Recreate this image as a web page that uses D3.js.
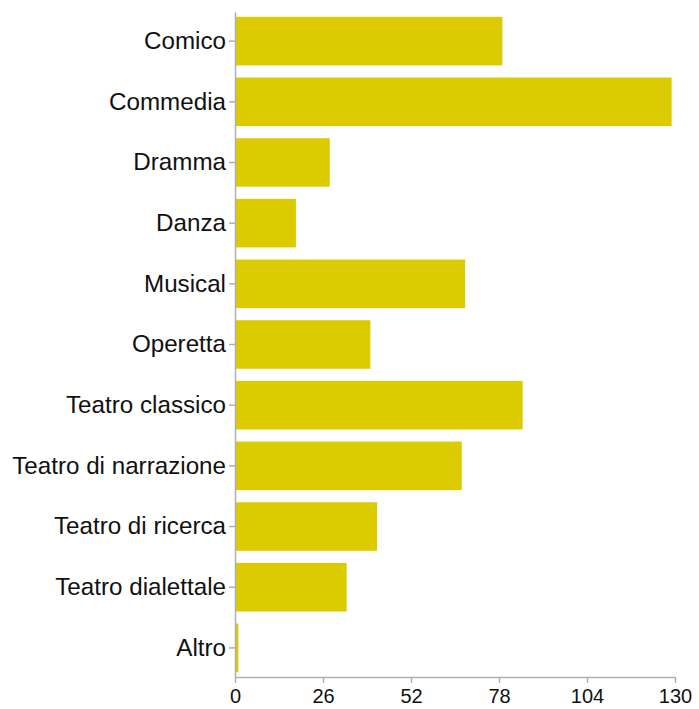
<!DOCTYPE html>
<html><head><meta charset="utf-8">
<script src="https://cdn.jsdelivr.net/npm/d3@7"></script>
<style>body{margin:0;background:#fff;overflow:hidden}svg{display:block}</style>
</head><body>
<script>
const categories = ["Comico","Commedia","Dramma","Danza","Musical","Operetta","Teatro classico","Teatro di narrazione","Teatro di ricerca","Teatro dialettale","Altro"];
const values = [79,129,28,18,68,40,85,67,42,33,1];
const xTicks = [0,26,52,78,104,130];

const W = 699, H = 709;
const svg = d3.select("body").append("svg").attr("width", W).attr("height", H);
const x = d3.scaleLinear().domain([0,130]).range([235,675]);
const y = d3.scaleBand().domain(categories).range([12,677]).paddingInner(0.2).paddingOuter(0.08);
const font = "'Liberation Sans', Arial, Helvetica, sans-serif";
const axisColor = "#b0b0b0";

svg.selectAll("rect.bar").data(values).join("rect")
  .attr("class","bar")
  .attr("x", x(0))
  .attr("y", (d,i) => y(categories[i]))
  .attr("width", d => x(d) - x(0))
  .attr("height", y.bandwidth())
  .attr("fill", "#dccb00");

const yAxis = svg.append("g").attr("transform", `translate(${x(0)},0)`)
  .call(d3.axisLeft(y).tickSize(6).tickSizeOuter(0).tickPadding(3));
const xAxis = svg.append("g").attr("transform", `translate(0,677)`)
  .call(d3.axisBottom(x).tickValues(xTicks).tickSize(6).tickSizeOuter(0).tickPadding(6));

[yAxis, xAxis].forEach(g => {
  g.attr("font-family", font);
  g.select(".domain").attr("stroke", axisColor).attr("stroke-width", 1.5);
  g.selectAll(".tick line").attr("stroke", axisColor).attr("stroke-width", 1.5);
  g.selectAll(".tick text").attr("fill", "#111");
});
yAxis.attr("font-size", 24.2);
xAxis.attr("font-size", 20);
</script>
</body></html>
